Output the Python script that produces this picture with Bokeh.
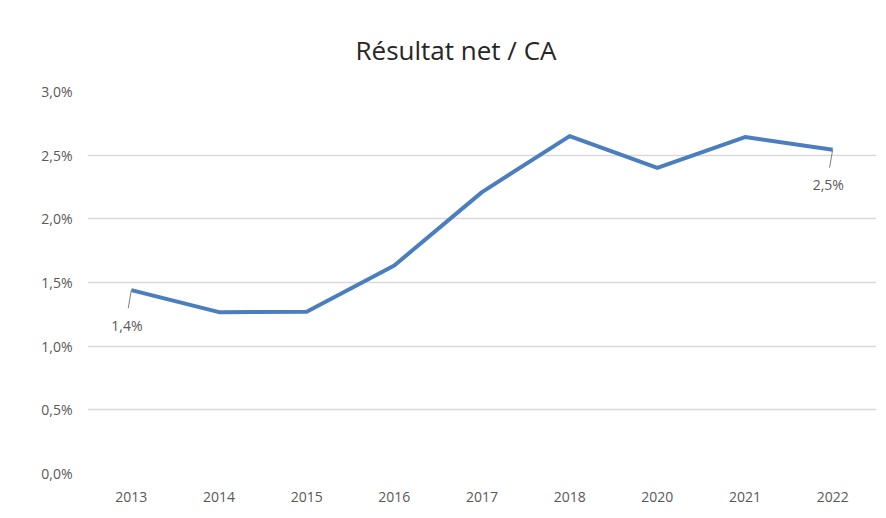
from bokeh.plotting import figure
from bokeh.models import Range1d, FactorRange, FixedTicker, CustomJSTickFormatter
from bokeh.core.properties import value
from bokeh.embed import file_html
from bokeh.resources import INLINE

# ---- data ----
years = ["2013", "2014", "2015", "2016", "2017", "2018", "2020", "2021", "2022"]
ratio = [0.0144, 0.01267, 0.0127, 0.01634, 0.0221, 0.0265, 0.0240, 0.02642, 0.02543]
y_ticks = [0.0, 0.005, 0.01, 0.015, 0.02, 0.025, 0.03]
labelled_years = ["2013", "2022"]
title_text = "Résultat net / CA"

FONT = "Open Sans"
GREY = "#595959"

p = figure(width=886, height=518, x_range=FactorRange(factors=years),
           y_range=Range1d(0, 0.03), output_backend="svg", toolbar_location=None,
           min_border_left=87, min_border_right=10, min_border_top=91, min_border_bottom=45,
           title=title_text)
p.outline_line_color = None
p.background_fill_color = "white"
p.border_fill_color = "white"

p.title.align = "left"
p.title.offset = 268
p.title.standoff = 47
p.title.text_font = FONT
p.title.text_font_size = "26px"
p.title.text_font_style = "normal"
p.title.text_color = "#262626"

p.line(years, ratio, line_color="#4a7ebf", line_width=4, line_join="round")

# data labels with leader lines
lx, ly, lt = [], [], []
for i, yv in enumerate(years):
    if yv in labelled_years:
        lx.append(i + 0.5)
        ly.append(ratio[i])
        lt.append(f"{ratio[i]*100:.1f}".replace(".", ",") + "%")
px_per_unit = 382 / 0.03
p.segment(x0=lx, y0=ly, x1=[x - 0.035 for x in lx], y1=[y - 18 / px_per_unit for y in ly],
          line_color="#808080", line_width=1)
p.text(x=[x - 0.05 for x in lx], y=ly, text=lt, y_offset=35, text_align="center",
       text_baseline="middle", text_font=value(FONT), text_font_size="14px", text_color=GREY)

# axes
p.yaxis.ticker = FixedTicker(ticks=y_ticks)
p.yaxis.formatter = CustomJSTickFormatter(code="return (tick*100).toFixed(1).replace('.', ',') + '%';")
for ax in (p.xaxis[0], p.yaxis[0]):
    ax.axis_line_color = None
    ax.major_tick_line_color = None
    ax.minor_tick_line_color = None
    ax.major_tick_in = 0
    ax.major_tick_out = 0
    ax.major_label_text_font = FONT
    ax.major_label_text_font_size = "14px"
    ax.major_label_text_color = GREY
p.yaxis.major_label_standoff = 15
p.xaxis.major_label_standoff = 18

p.xgrid.grid_line_color = None
p.ygrid.ticker = FixedTicker(ticks=y_ticks)
p.ygrid.grid_line_color = "#d9d9d9"
p.ygrid.grid_line_width = 1.5

open("out.html", "w").write(file_html(p, INLINE))
